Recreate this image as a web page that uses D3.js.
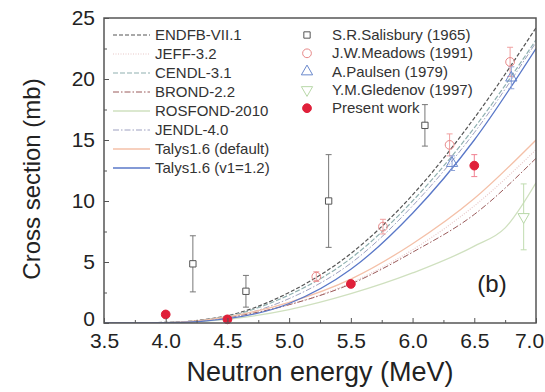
<!DOCTYPE html>
<html>
<head>
<meta charset="utf-8">
<script src="https://cdn.jsdelivr.net/npm/d3@7"></script>
<style>
  body { margin: 0; background: #fff; }
  text { font-family: Arial, "Liberation Sans", sans-serif; }
</style>
</head>
<body>
<svg width="545" height="392"></svg>
<script>
// evaluated data (energy grid in MeV, cross section in mb)
var egrid = [3.5, 4.0, 4.5, 5.0, 5.5, 6.0, 6.5, 7.0];
var endfb = [0, 0.05, 0.6, 2.5, 5.7, 10.5, 16.8, 24.2];
var jeff = [0, 0.02, 0.4, 1.5, 3.3, 6.0, 9.6, 14.2];
var cendl = [0, 0.04, 0.55, 2.3, 5.3, 10.0, 16.0, 23.2];
var brond = [0, 0.03, 0.45, 1.5, 3.2, 5.8, 8.9, 13.5];
var rosGrid = [3.5, 4.0, 4.5, 5.0, 5.5, 6.0, 6.5, 6.75, 7.0];
var rosfond = [0, 0.02, 0.3, 1.1, 2.4, 4.1, 6.3, 7.8, 11.5];
var jendl = [0, 0.03, 0.45, 2.0, 4.9, 9.6, 15.6, 23.0];
var talysDef = [0, 0.03, 0.5, 1.7, 3.6, 6.5, 10.2, 15.0];
var talysV1 = [0, 0.02, 0.35, 1.6, 4.4, 9.0, 15.0, 22.5];

// experimental data
var salE = [4.22, 4.65, 5.32, 6.1];
var salV = [4.85, 2.6, 10.0, 16.2];
var salErr = [2.3, 1.3, 3.8, 1.7];
var meaE = [5.22, 5.76, 6.3, 6.79];
var meaV = [3.8, 7.9, 14.6, 21.4];
var meaErr = [0.4, 0.6, 0.9, 1.2];
var pauE = [6.32, 6.8];
var pauV = [13.1, 20.1];
var pauErr = [0.6, 0.9];
var gleE = [6.9];
var gleV = [8.7];
var gleErr = [2.7];
var preE = [4.0, 4.5, 5.5, 6.5];
var preV = [0.7, 0.3, 3.2, 12.9];
var preErr = [0.2, 0.2, 0.3, 0.9];

var xTicks = [3.5, 4.0, 4.5, 5.0, 5.5, 6.0, 6.5, 7.0];
var yTicks = [0, 5, 10, 15, 20, 25];

var curves = [
  {name: "ENDFB-VII.1", e: egrid, v: endfb, color: "#555", dash: "4,2", w: 1.2},
  {name: "JEFF-3.2", e: egrid, v: jeff, color: "#e8c8c8", dash: "1,1.5", w: 1.2},
  {name: "CENDL-3.1", e: egrid, v: cendl, color: "#8fb0b0", dash: "5,2", w: 1.2},
  {name: "BROND-2.2", e: egrid, v: brond, color: "#9a5a5a", dash: "6,2,1.5,2", w: 1},
  {name: "ROSFOND-2010", e: rosGrid, v: rosfond, color: "#cfe0bf", dash: null, w: 1.3},
  {name: "JENDL-4.0", e: egrid, v: jendl, color: "#9da0c0", dash: "6,2,1.5,2", w: 1},
  {name: "Talys1.6 (default)", e: egrid, v: talysDef, color: "#f4c0a8", dash: null, w: 1.3},
  {name: "Talys1.6 (v1=1.2)", e: egrid, v: talysV1, color: "#5a78c8", dash: null, w: 1.3}
];

var svg = d3.select("svg");
var pLeft = 104, pRight = 536, pTop = 18, pBottom = 323;

var x = d3.scaleLinear().domain([3.5, 7.0]).range([pLeft, pRight]);
var y = d3.scaleLinear().domain([0, 25]).range([pBottom, pTop]);

var plot = svg.append("g");
plot.append("clipPath").attr("id", "clip")
  .append("rect").attr("x", pLeft).attr("y", pTop)
  .attr("width", pRight - pLeft).attr("height", pBottom - pTop);

var line = d3.line().curve(d3.curveMonotoneX);

var cg = plot.append("g").attr("clip-path", "url(#clip)");
curves.forEach(function (c) {
  var pts = c.e.map(function (e, i) { return [x(e), y(c.v[i])]; });
  cg.append("path")
    .attr("d", line(pts))
    .attr("fill", "none")
    .attr("stroke", c.color)
    .attr("stroke-width", c.w)
    .attr("stroke-dasharray", c.dash);
});

// error bars helper
function errBars(E, V, Err, color) {
  var g = plot.append("g").attr("stroke", color).attr("stroke-width", 1);
  E.forEach(function (e, i) {
    g.append("line").attr("x1", x(e)).attr("x2", x(e))
      .attr("y1", y(V[i] - Err[i])).attr("y2", y(V[i] + Err[i]));
    [V[i] - Err[i], V[i] + Err[i]].forEach(function (v) {
      g.append("line").attr("x1", x(e) - 3).attr("x2", x(e) + 3)
        .attr("y1", y(v)).attr("y2", y(v));
    });
  });
}

errBars(salE, salV, salErr, "#777");
errBars(meaE, meaV, meaErr, "#f0a0a0");
errBars(pauE, pauV, pauErr, "#8fa4d8");
errBars(gleE, gleV, gleErr, "#c0dcb0");
errBars(preE, preV, preErr, "#f08090");

var sq = d3.symbol().type(d3.symbolSquare).size(40);
var ci = d3.symbol().type(d3.symbolCircle).size(60);
var tri = d3.symbol().type(d3.symbolTriangle).size(55);

function marks(E, V, sym, fill, stroke, rot) {
  plot.append("g").selectAll("path").data(E).enter().append("path")
    .attr("d", sym)
    .attr("transform", function (e, i) {
      return "translate(" + x(e) + "," + y(V[i]) + ")" + (rot ? " rotate(180)" : "");
    })
    .attr("fill", fill)
    .attr("stroke", stroke)
    .attr("stroke-width", 1);
}

marks(salE, salV, sq, "#fff", "#555", false);
marks(meaE, meaV, ci, "none", "#e88888", false);
marks(pauE, pauV, tri, "none", "#6a88cc", false);
marks(gleE, gleV, tri, "#fff", "#b8d8a8", true);
marks(preE, preV, ci, "#e0203a", "#e0203a", false);

// axes with inward ticks
var xMinor = d3.range(3.75, 7.0, 0.5);
var yMinor = d3.range(2.5, 25, 5);

var ax = svg.append("g").attr("transform", "translate(0," + pBottom + ")");
ax.call(d3.axisBottom(x).tickValues(xTicks).tickSize(-5).tickPadding(10)
  .tickFormat(d3.format(".1f")));
ax.append("g").call(d3.axisBottom(x).tickValues(xMinor).tickSize(-3).tickFormat(""));
ax.selectAll(".domain").remove();
ax.selectAll("text").attr("font-size", 21).attr("fill", "#222")
  .attr("font-family", "Arial, 'Liberation Sans', sans-serif");
// keep the last label inside the picture
ax.selectAll(".tick text").filter(function (d) { return d === 7.0; }).attr("dx", -7);

var ay = svg.append("g").attr("transform", "translate(" + pLeft + ",0)");
ay.call(d3.axisLeft(y).tickValues(yTicks).tickSize(-5).tickPadding(9));
ay.append("g").call(d3.axisLeft(y).tickValues(yMinor).tickSize(-3).tickFormat(""));
ay.selectAll(".domain").remove();
ay.selectAll("text").attr("font-size", 21).attr("fill", "#222")
  .attr("font-family", "Arial, 'Liberation Sans', sans-serif");
ay.selectAll(".tick text").filter(function (d) { return d === 0; }).attr("dy", "0.12em");
svg.selectAll(".tick line").attr("stroke", "#555");

// frame
svg.append("rect").attr("x", pLeft).attr("y", pTop)
  .attr("width", pRight - pLeft).attr("height", pBottom - pTop)
  .attr("fill", "none").attr("stroke", "#555").attr("stroke-width", 1.5);

// axis titles
svg.append("text").attr("x", 320).attr("y", 381)
  .attr("text-anchor", "middle").attr("font-size", 27).attr("fill", "#222")
  .text("Neutron energy (MeV)");
svg.append("text")
  .attr("transform", "translate(40,179) rotate(-90)")
  .attr("text-anchor", "middle").attr("font-size", 24).attr("fill", "#222")
  .text("Cross section (mb)");

svg.append("text").attr("x", 492).attr("y", 292)
  .attr("text-anchor", "middle").attr("font-size", 24).attr("fill", "#222")
  .text("(b)");

// legend, left column
var lg = svg.append("g");
curves.forEach(function (c, i) {
  var yy = 35 + i * 19;
  lg.append("line").attr("x1", 113).attr("x2", 150).attr("y1", yy).attr("y2", yy)
    .attr("stroke", c.color).attr("stroke-width", c.w)
    .attr("stroke-dasharray", c.dash);
  lg.append("text").attr("x", 155).attr("y", yy + 5)
    .attr("font-size", 15).attr("fill", "#333").text(c.name);
});

// legend, right column
var rl = [
  {name: "S.R.Salisbury (1965)", sym: sq, fill: "#fff", stroke: "#555", rot: false},
  {name: "J.W.Meadows (1991)", sym: ci, fill: "none", stroke: "#e88888", rot: false},
  {name: "A.Paulsen (1979)", sym: tri, fill: "none", stroke: "#6a88cc", rot: false},
  {name: "Y.M.Gledenov (1997)", sym: tri, fill: "#fff", stroke: "#b8d8a8", rot: true},
  {name: "Present work", sym: ci, fill: "#e0203a", stroke: "#e0203a", rot: false}
];
rl.forEach(function (r, i) {
  var yy = 35 + i * 18.3;
  lg.append("path").attr("d", r.sym)
    .attr("transform", "translate(307," + yy + ")" + (r.rot ? " rotate(180)" : ""))
    .attr("fill", r.fill).attr("stroke", r.stroke);
  lg.append("text").attr("x", 332).attr("y", yy + 5)
    .attr("font-size", 15).attr("fill", "#333").text(r.name);
});
</script>
</body>
</html>
